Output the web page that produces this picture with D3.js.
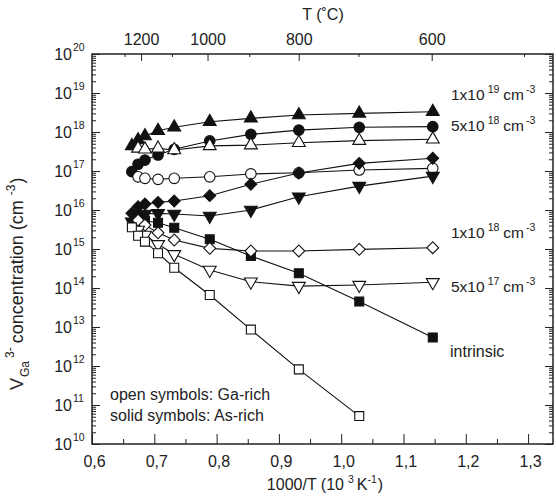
<!DOCTYPE html>
<html>
<head>
<meta charset="utf-8">
<script src="https://cdn.jsdelivr.net/npm/d3@7"></script>
<style>
  body { margin: 0; background: #fff; }
  svg { display: block; font-family: "Liberation Sans", Arial, sans-serif; }
  .axis path, .axis line { stroke: #222; }
  .axis text { font-size: 16px; fill: #222; font-family: "Liberation Sans", Arial, sans-serif; }
</style>
</head>
<body>
<div id="chart"></div>
<script>
// 1000/T positions of the measurements (10^3 K^-1)
const invT = [0.664, 0.674, 0.685, 0.706, 0.732, 0.789, 0.855, 0.932, 1.029, 1.147];

// V_Ga concentration (cm^-3), aligned with invT, null = no point
const asRich1e19 = [4.4e17, 6.2e17, 7.9e17, 1.08e18, 1.32e18, 1.84e18, 2.24e18, 2.73e18, 3.0e18, 3.3e18];
const asRich5e18 = [9.6e16, 1.49e17, 1.91e17, 2.57e17, 3.6e17, 5.9e17, 8.7e17, 1.12e18, 1.32e18, 1.37e18];
const gaRich1e19 = [null, 3.8e17, 3.6e17, 3.8e17, 3.45e17, 4.4e17, 4.6e17, 5.3e17, 6.0e17, 6.5e17];
const gaRich5e18 = [null, 7.1e16, 6.5e16, 6.1e16, 6.5e16, 7.1e16, 8.4e16, 9.0e16, 1.06e17, 1.17e17];
const asRich1e18 = [8.2e15, 1.22e16, 1.43e16, 1.57e16, 1.70e16, 2.33e16, 4.56e16, 8.9e16, 1.57e17, 2.12e17];
const asRich5e17 = [5.0e15, 7.4e15, 7.9e15, 8.2e15, 7.9e15, 7.0e15, 1.0e16, 2.19e16, 4.1e16, 7.4e16];
const asRichIntr = [null, 6.6e15, 5.3e15, 4.7e15, 3.5e15, 1.77e15, 6.6e14, 2.38e14, 4.5e13, 5.4e12];
const gaRich1e18 = [null, 5.5e15, 4.1e15, 2.6e15, 1.70e15, 1.04e15, 8.9e14, 8.9e14, 9.8e14, 1.08e15];
const gaRich5e17 = [null, 3.07e15, 2.29e15, 1.32e15, 7.3e14, 2.9e14, 1.45e14, 1.12e14, 1.19e14, 1.40e14];
const gaRichIntr = [3.6e15, 2.19e15, 1.54e15, 7.8e14, 3.3e14, 6.6e13, 8.6e12, 8.2e11, 5.2e10, null];

// top axis, temperature in degC
const tempMajor = [1200, 1000, 800, 600];
const tempMinor = [1260, 1100, 900, 700, 500];

const series = [
  { values: asRich1e19, shape: "triangle", solid: true },
  { values: asRich5e18, shape: "circle", solid: true },
  { values: gaRich1e19, shape: "triangle", solid: false },
  { values: gaRich5e18, shape: "circle", solid: false },
  { values: asRich1e18, shape: "diamond", solid: true },
  { values: asRich5e17, shape: "triangleDown", solid: true },
  { values: asRichIntr, shape: "square", solid: true },
  { values: gaRich1e18, shape: "diamond", solid: false },
  { values: gaRich5e17, shape: "triangleDown", solid: false },
  { values: gaRichIntr, shape: "square", solid: false }
];

const W = 556, H = 499;
const mL = 92, mR = 553, mT = 54, mB = 444;
const ink = "#222";

const svg = d3.select("#chart").append("svg")
  .attr("width", W).attr("height", H);

const x = d3.scaleLinear().domain([0.6, 1.34]).range([mL, mR]);
const y = d3.scaleLog().domain([1e10, 1e20]).range([mB, mT]);

// minor log ticks
const decades = d3.range(10, 21);
const minorY = [];
decades.slice(0, -1).forEach(e => { for (let m = 2; m <= 9; m++) minorY.push(m * Math.pow(10, e)); });

// frame
svg.append("rect")
  .attr("x", mL).attr("y", mT)
  .attr("width", mR - mL).attr("height", mB - mT)
  .attr("fill", "none").attr("stroke", ink).attr("stroke-width", 1.5);

// bottom axis
svg.append("g").attr("class", "axis")
  .attr("transform", `translate(0,${mB})`)
  .call(d3.axisBottom(x).tickValues(d3.range(0.6, 1.31, 0.1))
    .tickSize(-10).tickPadding(12)
    .tickFormat(d => d.toFixed(1).replace(".", ",")))
  .call(g => g.select(".domain").remove())
  .call(g => g.selectAll("text").attr("dx", 2));
svg.append("g").attr("class", "axis")
  .attr("transform", `translate(0,${mB})`)
  .call(d3.axisBottom(x).tickValues(d3.range(0.65, 1.34, 0.1)).tickSize(-5).tickFormat(""))
  .call(g => g.select(".domain").remove());

// top axis (temperature)
const toInv = t => 1000 / (t + 273.15);
svg.append("g").attr("class", "axis")
  .attr("transform", `translate(0,${mT})`)
  .call(d3.axisTop(x).tickValues(tempMajor.map(toInv))
    .tickSize(-7).tickPadding(9)
    .tickFormat(v => Math.round(1000 / v - 273.15)))
  .call(g => g.select(".domain").remove());
svg.append("g").attr("class", "axis")
  .attr("transform", `translate(0,${mT})`)
  .call(d3.axisTop(x).tickValues(tempMinor.map(toInv)).tickSize(-3).tickFormat(""))
  .call(g => g.select(".domain").remove());

// left & right axes
[[d3.axisLeft, mL], [d3.axisRight, mR]].forEach(([ax, pos]) => {
  svg.append("g").attr("class", "axis")
    .attr("transform", `translate(${pos},0)`)
    .call(ax(y).tickValues(decades.map(e => Math.pow(10, e))).tickSize(-8).tickFormat(""))
    .call(g => g.select(".domain").remove());
  svg.append("g").attr("class", "axis")
    .attr("transform", `translate(${pos},0)`)
    .call(ax(y).tickValues(minorY).tickSize(-4).tickFormat(""))
    .call(g => g.select(".domain").remove());
});

// decade labels 10^n
const yl = svg.append("g").attr("fill", ink);
decades.forEach(e => {
  yl.append("text")
    .attr("x", 72).attr("y", y(Math.pow(10, e)) + 6)
    .attr("text-anchor", "end").attr("font-size", 16).text("10");
  yl.append("text")
    .attr("x", 73).attr("y", y(Math.pow(10, e)) - 3)
    .attr("font-size", 10.5).text(e);
});

// lines and symbols
const line = d3.line()
  .x(d => x(d[0])).y(d => y(d[1]));

const shapes = {
  circle: { type: d3.symbolCircle, size: 88, rot: 0 },
  triangle: { type: d3.symbolTriangle, size: 72, rot: 0 },
  triangleDown: { type: d3.symbolTriangle, size: 72, rot: 180 },
  square: { type: d3.symbolSquare, size: 80, rot: 0 },
  diamond: { type: d3.symbolSquare, size: 70, rot: 45 }
};

const pointsOf = s => invT.map((v, i) => [v, s.values[i]]).filter(d => d[1] != null);

series.forEach(s => {
  svg.append("path")
    .datum(pointsOf(s))
    .attr("d", line)
    .attr("fill", "none").attr("stroke", "#111").attr("stroke-width", 1.1);
});
series.forEach(s => {
  const sh = shapes[s.shape];
  svg.append("g").selectAll("path")
    .data(pointsOf(s)).join("path")
    .attr("transform", d => `translate(${x(d[0])},${y(d[1])}) rotate(${sh.rot})`)
    .attr("d", d3.symbol(sh.type, sh.size))
    .attr("fill", s.solid ? "#111" : "#fff")
    .attr("stroke", "#111").attr("stroke-width", 1.1);
});

// series labels on the right
const labels = [
  { base: "1x10", exp: "19", y: 100 },
  { base: "5x10", exp: "18", y: 131 },
  { base: "1x10", exp: "18", y: 238 },
  { base: "5x10", exp: "17", y: 292 }
];
labels.forEach(l => {
  const t = svg.append("text").attr("x", 451).attr("y", l.y)
    .attr("font-size", 15.5).attr("fill", ink);
  t.append("tspan").text(l.base);
  t.append("tspan").attr("font-size", 10.5).attr("dy", -7).attr("dx", 3).text(l.exp);
  t.append("tspan").attr("dy", 7).attr("dx", 4).text("cm");
  t.append("tspan").attr("font-size", 10.5).attr("dy", -7).attr("dx", 2).text("-3");
});
svg.append("text").attr("x", 450).attr("y", 357)
  .attr("font-size", 16).attr("fill", ink).text("intrinsic");

// legend note
svg.append("text").attr("x", 110).attr("y", 400).attr("font-size", 16).attr("fill", ink)
  .text("open symbols: Ga-rich");
svg.append("text").attr("x", 110).attr("y", 421).attr("font-size", 16).attr("fill", ink)
  .text("solid symbols: As-rich");

// axis titles
const xt = svg.append("text").attr("x", 325).attr("y", 490)
  .attr("text-anchor", "middle").attr("font-size", 16).attr("fill", ink);
xt.append("tspan").text("1000/T (10");
xt.append("tspan").attr("font-size", 10.5).attr("dy", -7).attr("dx", 4).text("3");
xt.append("tspan").attr("dy", 7).attr("dx", 3).text("K");
xt.append("tspan").attr("font-size", 10.5).attr("dy", -7).text("-1");
xt.append("tspan").attr("dy", 7).attr("dx", 1).text(")");

svg.append("text").attr("x", 323).attr("y", 20)
  .attr("text-anchor", "middle").attr("font-size", 16).attr("fill", ink)
  .text("T (˚C)");

const yt = svg.append("text")
  .attr("transform", "translate(23,390) rotate(-90)")
  .attr("font-size", 18).attr("fill", ink);
yt.append("tspan").text("V");
yt.append("tspan").attr("font-size", 12).attr("dy", 6).attr("dx", 1).text("Ga");
yt.append("tspan").attr("font-size", 12).attr("dy", -15).attr("dx", 3).text("3-");
yt.append("tspan").attr("dy", 9).attr("dx", 4).text("concentration (cm");
yt.append("tspan").attr("font-size", 12).attr("dy", -8).attr("dx", 5).text("-3");
yt.append("tspan").attr("dy", 8).attr("dx", 1).text(")");
</script>
</body>
</html>
